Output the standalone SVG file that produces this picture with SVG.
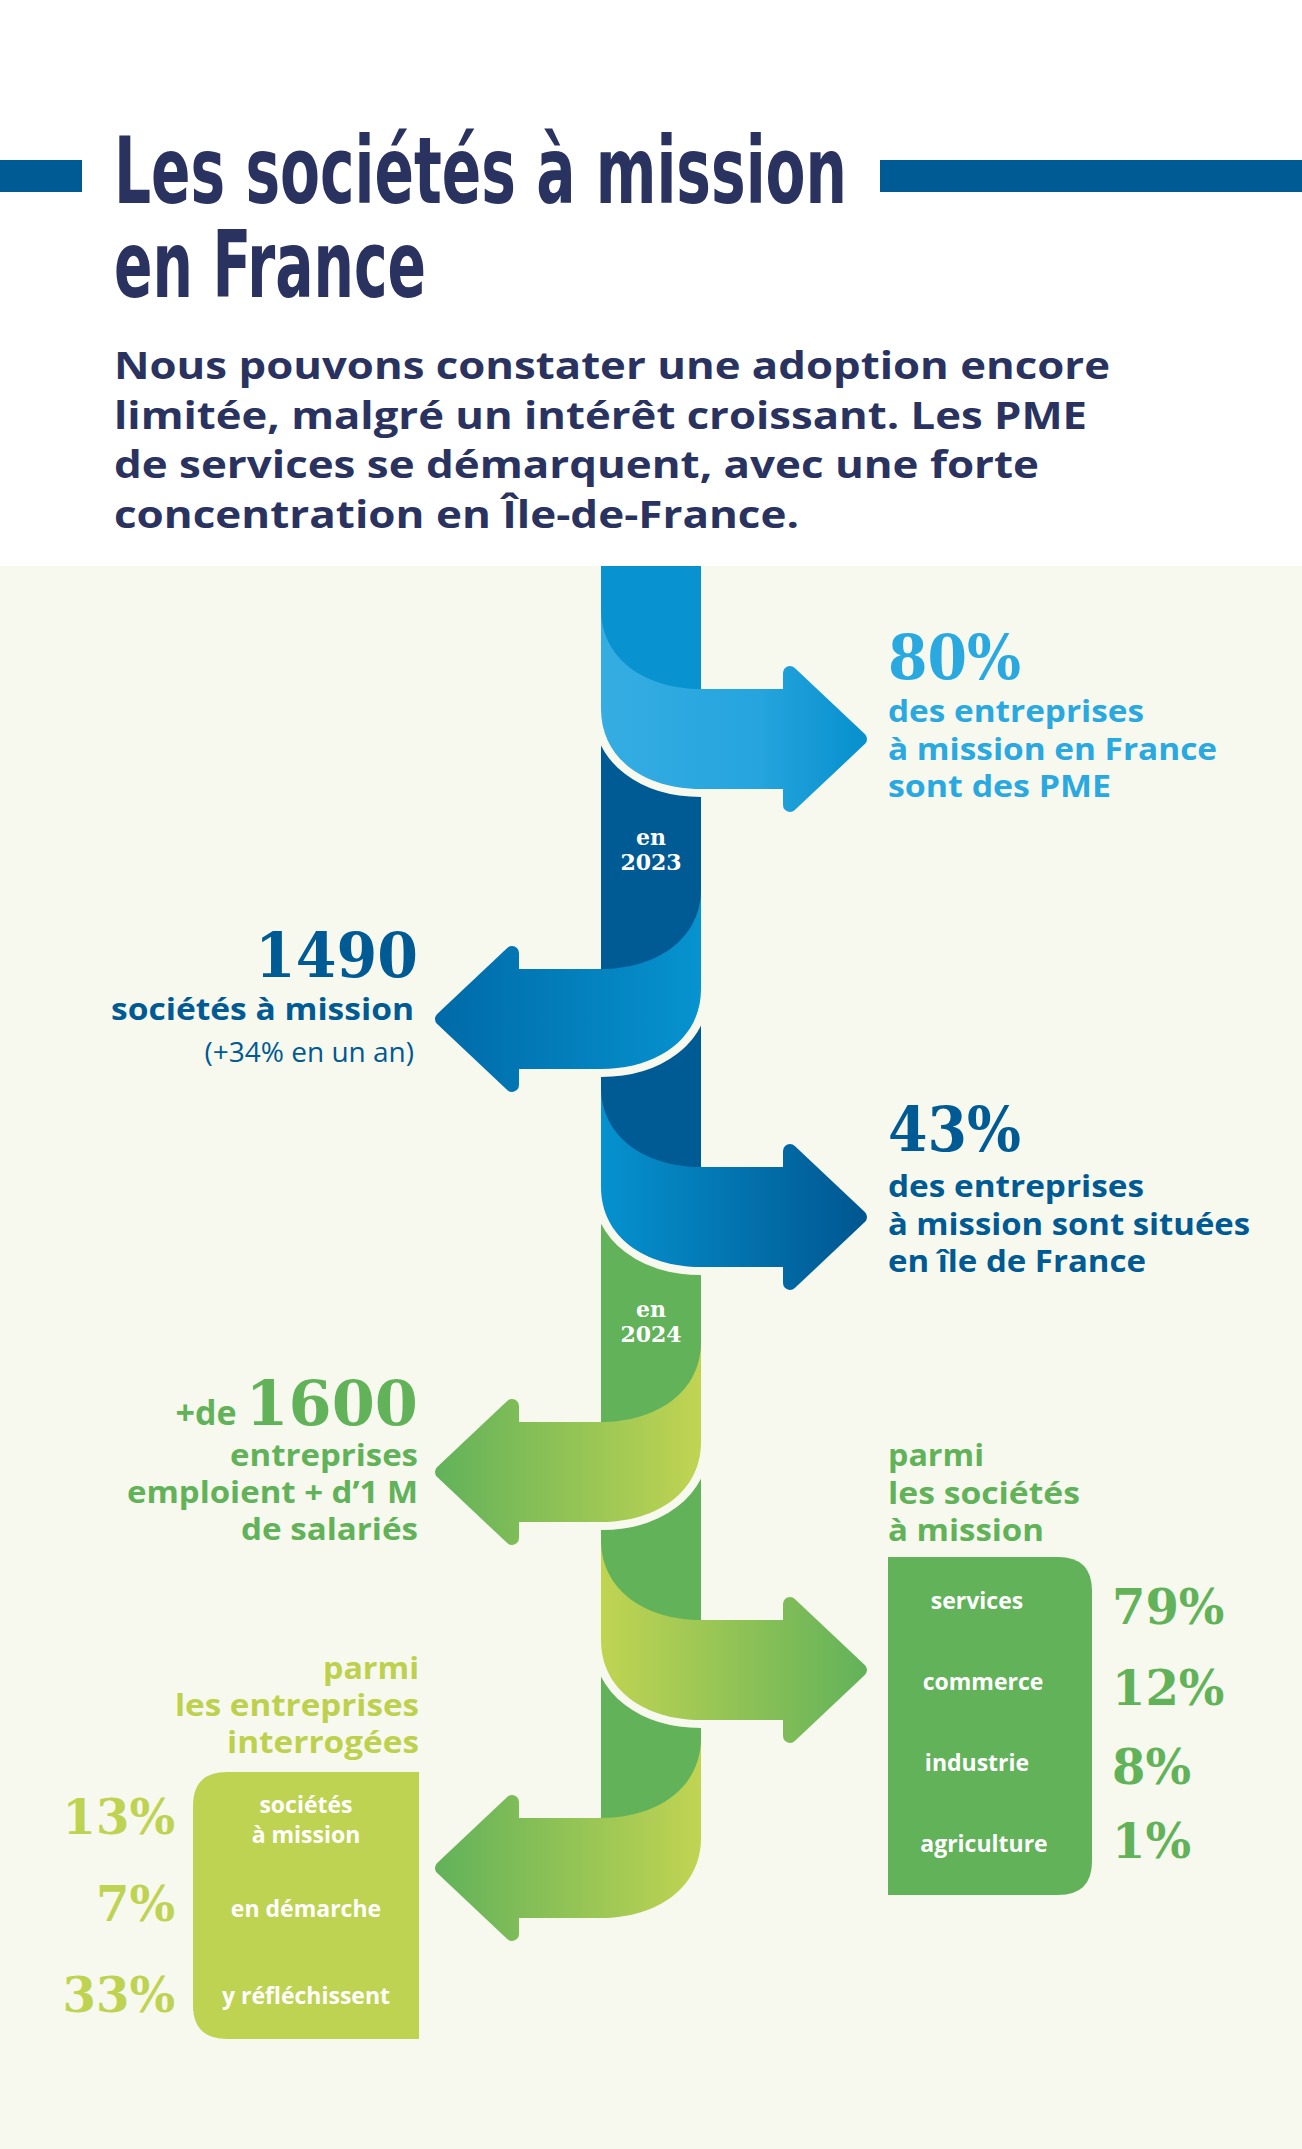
<svg xmlns="http://www.w3.org/2000/svg" width="1302" height="2149" viewBox="0 0 1302 2149">
<style>
.serif{font-family:"DejaVu Serif","Liberation Serif",serif;font-weight:bold}
.sans{font-family:"Open Sans","Noto Sans",sans-serif;font-weight:bold}
.gap{fill:none;stroke:#f7f9ee;stroke-width:16}
.w{fill:#ffffff}
.hd{stroke-width:14;stroke-linejoin:round}
</style>
<defs>
<linearGradient id="g1" gradientUnits="userSpaceOnUse" x1="601" y1="0" x2="867" y2="0"><stop offset="0" stop-color="#35ade3"/><stop offset="0.6" stop-color="#25a4dd"/><stop offset="1" stop-color="#0690cd"/></linearGradient>
<linearGradient id="g2" gradientUnits="userSpaceOnUse" x1="437" y1="0" x2="701" y2="0"><stop offset="0" stop-color="#006aa8"/><stop offset="1" stop-color="#0693cf"/></linearGradient>
<linearGradient id="g3" gradientUnits="userSpaceOnUse" x1="601" y1="0" x2="867" y2="0"><stop offset="0" stop-color="#0592cf"/><stop offset="1" stop-color="#005690"/></linearGradient>
<linearGradient id="g4" gradientUnits="userSpaceOnUse" x1="437" y1="0" x2="701" y2="0"><stop offset="0" stop-color="#62b25a"/><stop offset="1" stop-color="#c1d452"/></linearGradient>
<linearGradient id="g5" gradientUnits="userSpaceOnUse" x1="601" y1="0" x2="867" y2="0"><stop offset="0" stop-color="#c1d452"/><stop offset="1" stop-color="#62b25a"/></linearGradient>
</defs>
<rect x="0" y="0" width="1302" height="2149" fill="#ffffff"/>
<rect x="0" y="566" width="1302" height="1583" fill="#f7f9ee"/>

<g id="title">
<rect x="0" y="160" width="82" height="32" fill="#005a93"/>
<rect x="880" y="160" width="422" height="32" fill="#005a93"/>
<text x="114" y="203" font-family="'Liberation Sans Narrow','DejaVu Sans Condensed',sans-serif" font-weight="bold" font-size="92" fill="#2a3360" textLength="733" lengthAdjust="spacingAndGlyphs">Les sociétés à mission</text>
<text x="114" y="297" font-family="'Liberation Sans Narrow','DejaVu Sans Condensed',sans-serif" font-weight="bold" font-size="92" fill="#2a3360" textLength="312" lengthAdjust="spacingAndGlyphs">en France</text>
</g>
<g id="subtitle" class="sans" font-size="38" fill="#2a3360">
<text x="114" y="379" textLength="996" lengthAdjust="spacingAndGlyphs">Nous pouvons constater une adoption encore</text>
<text x="114" y="429" textLength="973" lengthAdjust="spacingAndGlyphs">limitée, malgré un intérêt croissant. Les PME</text>
<text x="114" y="478" textLength="925" lengthAdjust="spacingAndGlyphs">de services se démarquent, avec une forte</text>
<text x="114" y="528" textLength="685" lengthAdjust="spacingAndGlyphs">concentration en Île-de-France.</text>
</g>

<g id="spine">
<rect x="601" y="566" width="100" height="134" fill="#0893d0"/>
<rect x="601" y="700" width="100" height="480" fill="#005a93"/>
<rect x="601" y="1180" width="100" height="650" fill="#62b25a"/>
</g>

<g id="connectors">
<path class="gap" d="M601,709 C601,759 645,789 701,789"/>
<path fill="url(#g1)" d="M601,609 C601,659 645,689 701,689 L800,689 L800,789 L701,789 C645,789 601,759 601,709 Z"/>
<polygon class="hd" fill="url(#g1)" stroke="url(#g1)" points="790,673 860,739 790,805"/>

<path class="gap" d="M701,989 C701,1039 657,1069 601,1069"/>
<path fill="url(#g2)" d="M701,889 C701,939 657,969 601,969 L505,969 L505,1069 L601,1069 C657,1069 701,1039 701,989 Z"/>
<polygon class="hd" fill="url(#g2)" stroke="url(#g2)" points="512,953 442,1019 512,1085"/>

<path class="gap" d="M601,1187 C601,1237 645,1267 701,1267"/>
<path fill="url(#g3)" d="M601,1087 C601,1137 645,1167 701,1167 L800,1167 L800,1267 L701,1267 C645,1267 601,1237 601,1187 Z"/>
<polygon class="hd" fill="url(#g3)" stroke="url(#g3)" points="790,1151 860,1217 790,1283"/>

<path class="gap" d="M701,1442 C701,1492 657,1522 601,1522"/>
<path fill="url(#g4)" d="M701,1342 C701,1392 657,1422 601,1422 L505,1422 L505,1522 L601,1522 C657,1522 701,1492 701,1442 Z"/>
<polygon class="hd" fill="url(#g4)" stroke="url(#g4)" points="512,1406 442,1472 512,1538"/>

<path class="gap" d="M601,1640 C601,1690 645,1720 701,1720"/>
<path fill="url(#g5)" d="M601,1540 C601,1590 645,1620 701,1620 L800,1620 L800,1720 L701,1720 C645,1720 601,1690 601,1640 Z"/>
<polygon class="hd" fill="url(#g5)" stroke="url(#g5)" points="790,1604 860,1670 790,1736"/>

<path fill="url(#g4)" d="M701,1738 C701,1788 657,1818 601,1818 L505,1818 L505,1918 L601,1918 C657,1918 701,1888 701,1838 Z"/>
<polygon class="hd" fill="url(#g4)" stroke="url(#g4)" points="512,1802 442,1868 512,1934"/>
</g>

<g id="year2023" class="serif w" font-size="22" text-anchor="middle">
<text x="651" y="845">en</text><text x="651" y="870">2023</text>
</g>
<g id="year2024" class="serif w" font-size="22" text-anchor="middle">
<text x="651" y="1317">en</text><text x="651" y="1342">2024</text>
</g>

<g id="n80" fill="#2aa8e0">
<text class="serif" x="888" y="679" font-size="62" textLength="133" lengthAdjust="spacingAndGlyphs">80%</text>
<g class="sans" font-size="30"><text x="888" y="722" textLength="256" lengthAdjust="spacingAndGlyphs">des entreprises</text><text x="888" y="760" textLength="329" lengthAdjust="spacingAndGlyphs">à mission en France</text><text x="888" y="797" textLength="223" lengthAdjust="spacingAndGlyphs">sont des PME</text></g>
</g>

<g id="n1490" fill="#005a93" text-anchor="end">
<text class="serif" x="418" y="977" font-size="62" textLength="163" lengthAdjust="spacingAndGlyphs">1490</text>
<text class="sans" x="414" y="1020" font-size="30" textLength="303" lengthAdjust="spacingAndGlyphs">sociétés à mission</text>
<text x="414" y="1062" font-size="28" font-family="'Open Sans','Noto Sans',sans-serif">(+34% en un an)</text>
</g>

<g id="n43" fill="#005a93">
<text class="serif" x="888" y="1151" font-size="62" textLength="133" lengthAdjust="spacingAndGlyphs">43%</text>
<g class="sans" font-size="30"><text x="888" y="1197" textLength="256" lengthAdjust="spacingAndGlyphs">des entreprises</text><text x="888" y="1235" textLength="362" lengthAdjust="spacingAndGlyphs">à mission sont situées</text><text x="888" y="1272" textLength="258" lengthAdjust="spacingAndGlyphs">en île de France</text></g>
</g>

<g id="n1600" fill="#62b25a" text-anchor="end">
<text x="418" y="1425"><tspan class="sans" font-size="34">+de </tspan><tspan class="serif" font-size="62">1600</tspan></text>
<g class="sans" font-size="30"><text x="418" y="1466" textLength="188" lengthAdjust="spacingAndGlyphs">entreprises</text><text x="418" y="1503" textLength="291" lengthAdjust="spacingAndGlyphs">emploient + d’1 M</text><text x="418" y="1540" textLength="177" lengthAdjust="spacingAndGlyphs">de salariés</text></g>
</g>

<g id="secteurs">
<g class="sans" font-size="30" fill="#62b25a"><text x="888" y="1466" textLength="96" lengthAdjust="spacingAndGlyphs">parmi</text><text x="888" y="1504" textLength="192" lengthAdjust="spacingAndGlyphs">les sociétés</text><text x="888" y="1541" textLength="156" lengthAdjust="spacingAndGlyphs">à mission</text></g>
<path d="M888,1557 H1058 Q1092,1557 1092,1591 V1861 Q1092,1895 1058,1895 H888 Z" fill="#62b25a"/>
<g class="sans w" font-size="23" text-anchor="middle"><text x="977" y="1609">services</text><text x="983" y="1690">commerce</text><text x="977" y="1771">industrie</text><text x="984" y="1852">agriculture</text></g>
<g class="serif" font-size="48" fill="#62b25a"><text x="1112" y="1624">79%</text><text x="1112" y="1705">12%</text><text x="1112" y="1784">8%</text><text x="1112" y="1858">1%</text></g>
</g>

<g id="interrogees">
<g class="sans" font-size="30" fill="#bdd14f" text-anchor="end"><text x="419" y="1679" textLength="96" lengthAdjust="spacingAndGlyphs">parmi</text><text x="419" y="1716" textLength="244" lengthAdjust="spacingAndGlyphs">les entreprises</text><text x="419" y="1753" textLength="192" lengthAdjust="spacingAndGlyphs">interrogées</text></g>
<path d="M419,1772 H227 Q193,1772 193,1806 V2005 Q193,2039 227,2039 H419 Z" fill="#bfd353"/>
<g class="sans w" font-size="23" text-anchor="middle"><text x="306" y="1813">sociétés</text><text x="306" y="1843">à mission</text><text x="306" y="1917">en démarche</text><text x="306" y="2004">y réfléchissent</text></g>
<g class="serif" font-size="48" fill="#bfd353" text-anchor="end"><text x="175" y="1834">13%</text><text x="175" y="1921">7%</text><text x="175" y="2012">33%</text></g>
</g>
</svg>
